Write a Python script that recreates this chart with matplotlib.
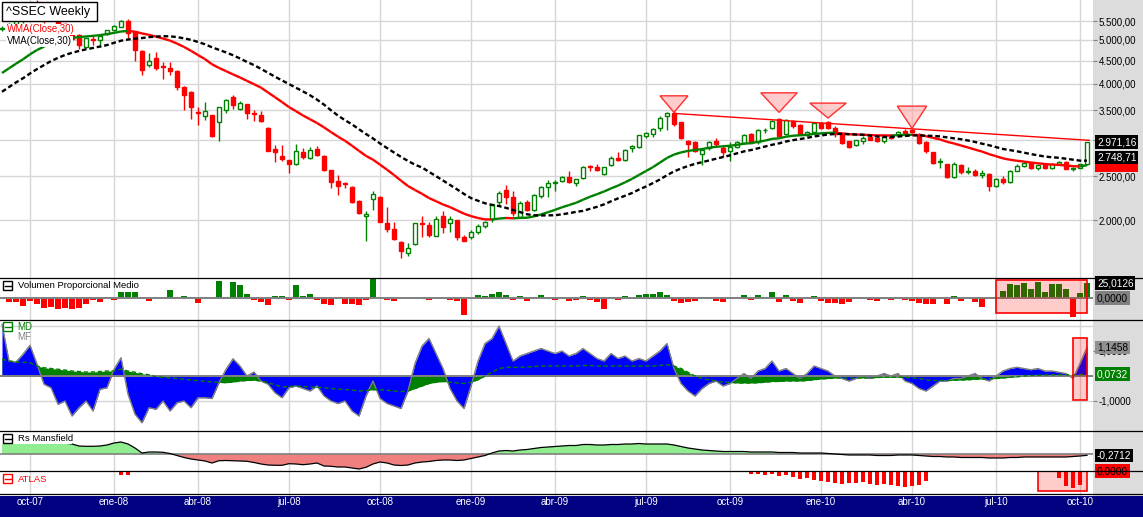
import matplotlib
matplotlib.use("Agg")
import matplotlib.pyplot as plt
import matplotlib.patches as mpatches
from matplotlib.collections import LineCollection
from matplotlib.lines import Line2D
from matplotlib.ticker import NullLocator, NullFormatter
from matplotlib.transforms import blended_transform_factory
import numpy as np

plt.rcParams['font.family'] = ['Liberation Sans', 'DejaVu Sans']

# ---------------- datos semanales ^SSEC ----------------
warmup_close = [2612, 2730, 2998, 2880, 2972, 2895, 3094, 3183, 3323, 3445,
                3584, 3841, 4021, 4030, 4181, 3670, 3913, 4252, 4091, 3820,
                3781, 3914, 4058, 4345, 4560, 4749, 4656, 5107, 5219]

opens = [5290, 5300, 5420, 5530, 5600, 5900, 5800, 5600, 5750, 5420,
         5300, 5120, 4830, 5020, 5010, 5140, 5254, 5345, 5500, 5200,
         4730, 4410, 4570, 4380, 4340, 4265, 3940, 3840, 3470, 3400,
         3410, 3285, 3500, 3745, 3517, 3600, 3440, 3411, 3200, 2870,
         2773, 2713, 2655, 2825, 2746, 2870, 2773, 2579, 2440, 2410,
         2370, 2200, 2040, 2230, 2254, 1966, 1910, 1790, 1694, 1768,
         1970, 1950, 1847, 2041, 1966, 2000, 1830, 1830, 1880, 1943,
         2007, 2188, 2330, 2243, 2034, 2188, 2104, 2262, 2365, 2410,
         2442, 2485, 2420, 2473, 2630, 2620, 2527, 2645, 2735, 2713,
         2880, 2904, 3070, 3095, 3188, 3395, 3440, 3290, 2988, 2980,
         2800, 2880, 2988, 2890, 2840, 2904, 2960, 3105, 2970, 3155,
         3190, 3350, 3105, 3310, 3242, 3090, 3130, 3280, 3300, 3200,
         3095, 2988, 2928, 2990, 3055, 3040, 2988, 3090, 3090, 3150,
         3165, 3105, 2980, 2820, 2680, 2655, 2495, 2650, 2550, 2570,
         2515, 2530, 2380, 2470, 2424, 2572, 2637, 2672, 2608, 2642,
         2611, 2656, 2688, 2598, 2610, 2660]
highs = [5360, 5450, 5560, 5620, 5920, 6124, 5850, 5950, 5780, 5460,
         5330, 5150, 5060, 5100, 5120, 5270, 5380, 5520, 5550, 5220,
         4760, 4670, 4710, 4475, 4475, 4280, 3960, 3850, 3550, 3650,
         3420, 3560, 3700, 3776, 3665, 3610, 3500, 3490, 3210, 2928,
         2928, 2720, 2943, 2890, 2904, 2914, 2780, 2585, 2514, 2430,
         2380, 2215, 2090, 2315, 2260, 2140, 1983, 1795, 1777, 1970,
         2041, 1983, 2040, 2093, 2044, 2005, 1850, 1900, 1960, 1995,
         2175, 2320, 2390, 2320, 2200, 2215, 2280, 2380, 2451, 2451,
         2500, 2570, 2470, 2630, 2640, 2660, 2625, 2770, 2820, 2870,
         2930, 3090, 3130, 3200, 3390, 3470, 3478, 3300, 3004, 2990,
         2890, 2990, 3040, 2928, 2980, 2990, 3100, 3120, 3180, 3190,
         3330, 3360, 3340, 3320, 3260, 3150, 3290, 3300, 3310, 3230,
         3110, 2995, 3010, 3060, 3070, 3050, 3070, 3100, 3140, 3170,
         3180, 3110, 2990, 2830, 2740, 2660, 2680, 2660, 2620, 2590,
         2580, 2540, 2480, 2500, 2580, 2660, 2700, 2690, 2660, 2660,
         2670, 2700, 2700, 2620, 2660, 2980]
lows = [5230, 5250, 5400, 5450, 5580, 5750, 5460, 5560, 5400, 5250,
        4980, 4770, 4790, 4870, 4830, 5120, 5220, 5330, 5040, 4500,
        4180, 4360, 4300, 4095, 4180, 3870, 3500, 3340, 3240, 3325,
        3050, 2990, 3440, 3510, 3500, 3340, 3313, 3300, 2840, 2680,
        2703, 2545, 2650, 2723, 2723, 2770, 2570, 2350, 2271, 2350,
        2180, 2060, 1800, 2104, 1980, 1883, 1807, 1650, 1665, 1760,
        1837, 1837, 1840, 1874, 1880, 1810, 1795, 1820, 1860, 1920,
        1980, 2150, 2172, 2040, 2020, 2090, 2090, 2240, 2250, 2320,
        2430, 2410, 2380, 2460, 2560, 2570, 2520, 2630, 2700, 2700,
        2820, 2880, 3040, 3050, 3150, 3160, 3230, 3020, 2750, 2820,
        2640, 2860, 2920, 2760, 2700, 2890, 2950, 2960, 2950, 3110,
        3180, 3060, 3090, 3200, 3080, 3070, 3110, 3170, 3180, 3050,
        2950, 2890, 2920, 2940, 3000, 2980, 2960, 3020, 3070, 3090,
        3110, 2950, 2810, 2660, 2610, 2480, 2480, 2530, 2530, 2500,
        2480, 2320, 2370, 2400, 2420, 2560, 2620, 2590, 2580, 2590,
        2590, 2640, 2590, 2570, 2600, 2650]
closes = [5300, 5420, 5530, 5580, 5900, 5820, 5590, 5780, 5420, 5330,
          5030, 4870, 5040, 5000, 5100, 5254, 5360, 5500, 5170, 4750,
          4290, 4490, 4330, 4350, 4270, 3940, 3780, 3560, 3450, 3480,
          3070, 3550, 3680, 3590, 3620, 3450, 3425, 3313, 2845, 2820,
          2727, 2655, 2840, 2760, 2855, 2783, 2580, 2430, 2380, 2400,
          2190, 2075, 2062, 2280, 1983, 1910, 1816, 1711, 1732, 1966,
          1960, 1853, 2007, 1933, 2010, 1837, 1800, 1883, 1941, 1983,
          2166, 2300, 2247, 2070, 2177, 2104, 2271, 2370, 2410, 2430,
          2485, 2430, 2460, 2620, 2615, 2579, 2620, 2737, 2720, 2860,
          2914, 3081, 3117, 3176, 3365, 3440, 3255, 3030, 2943, 2840,
          2860, 2980, 2940, 2820, 2904, 2970, 3090, 2965, 3160, 3165,
          3317, 3070, 3325, 3230, 3095, 3130, 3280, 3190, 3190, 3105,
          2965, 2904, 3004, 3040, 3004, 2990, 3055, 3040, 3130, 3105,
          3125, 2960, 2845, 2670, 2695, 2495, 2656, 2553, 2569, 2515,
          2535, 2382, 2470, 2424, 2572, 2637, 2672, 2608, 2642, 2611,
          2656, 2688, 2598, 2610, 2656, 2971.16]

month_bars = [4, 16, 28, 41, 54, 67, 79, 92, 104, 117, 130, 142, 154]
month_labels = ['oct-07', 'ene-08', 'abr-08', 'jul-08', 'oct-08', 'ene-09', 'abr-09',
                'jul-09', 'oct-09', 'ene-10', 'abr-10', 'jul-10', 'oct-10']
price_ticks = [2000, 2500, 3000, 3500, 4000, 4500, 5000, 5500]

# linea de resistencia y triangulos de senal
trend_x = [96, 155.3]
trend_y = [3440, 3000]
tri_bar = [96, 111, 118, 130]
tri_tip = [3458, 3458, 3360, 3188]
tri_top = [3762, 3820, 3625, 3570]
tri_half = [2.0, 2.6, 2.6, 2.1]

volumen = [0, -5.5, -5.5, -12, -4, -10, -15.5, -14, -17, -16.5,
           -17, -16, -10, -2, -5.5, 2, -2, 10, 10, 10,
           0, -4, 0, 0, 14, 0, 4, 0, -7, 0,
           0, 29, 0, 28, 22, 7, -2, -5.5, -10.5, 4,
           4, -2, 22, 4, 7, -2, -9, -10.5, 2, -9,
           -9, -10.5, -2, 33, 0, -2, -4, 0, 0, 3,
           0, -3, 0, 0, -3, -5, -28, 0, 6, 4,
           8, 10, 6, -3, 4, -4, 3, 5, 3, -3,
           3, -5, -3, 4, -2, -6, -18, 3, -3, 4,
           0, 6, 8, 8, 10, 6, -4, -8, -6, -4,
           3, 2, -4, -6, 3, 2, 5, -3, 5, 2,
           10, -6, 5, -4, -8, 2, 4, -5, -7, -8,
           -10, -6, 3, 2, -3, -4, 3, -3, 3, -3,
           -4, -8, -9, -10, 2, -10, 4, -4, 2, -6,
           -15, -1.5, 2.8, 12.8, 24, 22, 25, 15.5, 26.7, 10,
           24, 24, 15.5, -30.5, 8.3, 25.0126]

md = [2.07, 0.6, 0.56, 0.87, 1.23, 0.47, -0.33, -0.47, -1.13, -1.0,
      -1.6, -1.27, -1.0, -1.4, -0.53, -0.47, 0.27, 0.73, -0.73, -1.53,
      -1.87, -1.27, -1.33, -1.0, -1.4, -1.07, -1.0, -1.27, -0.87, -0.87,
      -0.9, -0.27, 0.27, 0.69, 0.4, 0.0, 0.16, -0.2, -0.33, -0.67,
      -0.87, -0.47, -0.4, -0.5, -0.6, -0.4, -0.8, -1.0, -1.1, -1.0,
      -1.4, -1.6, -0.8, -0.2, -0.9, -1.1, -1.2, -1.3, -0.6, 0.5,
      1.2, 1.5, 0.9, 0.3, -0.5, -1.0, -1.3, -0.4, 0.6, 1.3,
      1.5, 2.0, 1.3, 0.6, 0.8, 0.9, 1.0, 1.1, 1.0, 0.9,
      1.0, 0.8, 0.9, 1.1, 0.9, 0.7, 0.6, 0.9, 0.7, 0.8,
      0.6, 0.7, 0.6, 0.8, 1.0, 1.3, 0.3, -0.3, -0.6, -0.8,
      -0.5, -0.3, -0.2, -0.4, -0.3, -0.1, 0.1, -0.1, 0.2, 0.3,
      0.6, 0.2, 0.3, 0.1, -0.1, 0.1, 0.4, 0.3, 0.2, 0.0,
      -0.1, -0.2, -0.1, 0.0, -0.1, 0.0, 0.1, 0.0, 0.1, -0.2,
      -0.3, -0.5, -0.6, -0.4, -0.2, -0.2, -0.1, -0.1, 0.0, 0.1,
      -0.1, -0.2, 0.0, 0.2, 0.3, 0.35, 0.3, 0.25, 0.3, 0.2,
      0.2, 0.15, 0.1, -0.1, 0.5, 1.1458]

mf = [0.67, 0.6, 0.56, 0.55, 0.53, 0.4, 0.33, 0.3, 0.27, 0.24,
      0.2, 0.18, 0.16, 0.16, 0.18, 0.2, 0.2, 0.27, 0.2, 0.15,
      0.09, 0.05, -0.03, -0.05, -0.08, -0.1, -0.13, -0.16, -0.19, -0.21,
      -0.24, -0.25, -0.27, -0.24, -0.2, -0.18, -0.17, -0.2, -0.27, -0.35,
      -0.44, -0.42, -0.4, -0.42, -0.44, -0.45, -0.47, -0.5, -0.52, -0.54,
      -0.56, -0.6, -0.58, -0.55, -0.55, -0.57, -0.6, -0.62, -0.6, -0.5,
      -0.4, -0.3, -0.25, -0.22, -0.25, -0.28, -0.3, -0.25, -0.15, 0.0,
      0.15, 0.3, 0.35, 0.35, 0.35, 0.36, 0.38, 0.4, 0.4, 0.4,
      0.4, 0.4, 0.4, 0.42, 0.42, 0.4, 0.4, 0.4, 0.4, 0.4,
      0.4, 0.4, 0.4, 0.4, 0.42, 0.45, 0.4, 0.3, 0.15, 0.0,
      -0.1, -0.15, -0.2, -0.25, -0.25, -0.28, -0.28, -0.28, -0.27, -0.25,
      -0.22, -0.22, -0.2, -0.2, -0.2, -0.18, -0.15, -0.12, -0.1, -0.08,
      -0.08, -0.08, -0.08, -0.08, -0.08, -0.06, -0.05, -0.05, -0.05, -0.05,
      -0.08, -0.1, -0.15, -0.18, -0.18, -0.18, -0.17, -0.16, -0.15, -0.13,
      -0.12, -0.12, -0.1, -0.08, -0.05, -0.03, 0.0, 0.02, 0.03, 0.04,
      0.05, 0.05, 0.05, 0.04, 0.05, 0.0732]

mansfield = [2.6, 2.6, 2.6, 2.6, 2.6, 2.6, 2.4, 2.4, 2.2, 2.2,
             2.0, 1.6, 1.54, 1.54, 1.6, 1.8, 2.2, 2.4, 2.0, 1.2,
             0.2, 0.4, 0.4, 0.34, 0.1, -0.3, -0.7, -1.0, -1.2, -1.4,
             -1.8, -1.34, -1.3, -1.34, -1.4, -1.46, -1.7, -2.0, -2.2, -2.26,
             -2.26, -1.94, -2.0, -2.14, -2.0, -1.8, -2.4, -2.46, -2.6, -2.6,
             -2.8, -3.0, -2.66, -2.0, -1.6, -1.8, -2.2, -2.3, -2.2, -1.8,
             -1.6, -1.5, -1.3, -1.2, -1.2, -1.3, -1.2, -0.9, -0.6, -0.3,
             0.2, 0.6, 0.7, 0.6, 0.8, 0.9, 1.1, 1.3, 1.4, 1.5,
             1.6, 1.7, 1.7, 1.9, 1.9, 1.8, 1.8, 1.9, 1.9, 2.0,
             2.0, 2.1, 2.0, 2.0, 2.0, 2.0, 1.8, 1.5, 1.2, 1.0,
             0.8, 0.7, 0.6, 0.5, 0.5, 0.5, 0.5, 0.4, 0.4, 0.4,
             0.4, 0.3, 0.3, 0.3, 0.2, 0.2, 0.2, 0.2, 0.1, 0.0,
             -0.1, -0.2, -0.2, -0.2, -0.2, -0.3, -0.3, -0.3, -0.2, -0.2,
             -0.2, -0.3, -0.4, -0.5, -0.5, -0.6, -0.6, -0.7, -0.7, -0.7,
             -0.7, -0.8, -0.8, -0.8, -0.7, -0.7, -0.6, -0.6, -0.6, -0.6,
             -0.6, -0.6, -0.6, -0.5, -0.4, -0.2712]

atlas_bars = [17, 18, 107, 108, 109, 110, 111, 112, 113, 114, 115, 116, 117, 118,
              119, 120, 121, 122, 123, 124, 125, 126, 127, 128, 129, 130, 131, 132,
              151, 152, 153, 154]
atlas_vals = [-4, -4, -3, -3, -4, -3, -5, -4, -6, -8, -7, -9, -10, -11,
              -12, -13, -12, -12, -11, -13, -14, -13, -14, -15, -16, -15, -14, -10,
              -6.7, -15, -16.7, -14]

# ---------------- figura ----------------
W, H = 1143, 517
RIGHT = 1093
GREEN, RED, GRID = '#008000', '#ff0000', '#d6d6d6'

o, h, l, c = (np.array(a, dtype=float) for a in (opens, highs, lows, closes))
n = len(c)
x = np.arange(n)
XMIN, XMAX = -2 / 7, (RIGHT - 2) / 7

fig = plt.figure(figsize=(W / 100, H / 100), dpi=100)
fig.patch.set_facecolor('#dcdcdc')


def fx(px):
    return px / W


def fy(py):
    return 1 - py / H


def es(v, d):
    s = f"{v:,.{d}f}"
    return s.replace(',', 'X').replace('.', ',').replace('X', '.')


def make_panel(top, bottom):
    ax = fig.add_axes([0, fy(bottom), fx(RIGHT), (bottom - top) / H])
    ax.set_facecolor('white')
    for s in ax.spines.values():
        s.set_visible(False)
    ax.set_xlim(XMIN, XMAX)
    ax.set_xticks(month_bars)
    ax.tick_params(axis='x', length=0, labelbottom=False)
    ax.grid(axis='x', color=GRID, lw=1)
    ax.yaxis.tick_right()
    ax.tick_params(axis='y', direction='out', length=3, color='#808080',
                   labelsize=7, pad=1)
    ax.set_axisbelow(True)
    return ax


def icon(py, color):
    fig.add_artist(mpatches.Rectangle((fx(2.7), fy(py + 9)), 9.6 / W, 9 / H,
                                      transform=fig.transFigure, fc='white',
                                      ec=color, lw=1, zorder=6))
    fig.add_artist(Line2D([fx(4.5), fx(10.5)], [fy(py + 4.5)] * 2,
                          transform=fig.transFigure, color=color, lw=1, zorder=7))


def value_box(ax, yval, txt, fc, tc):
    tr = blended_transform_factory(ax.transAxes, ax.transData)
    ax.text(1097 / RIGHT, yval, txt, transform=tr, ha='left', va='center',
            fontsize=7.3, color=tc, clip_on=False, zorder=10,
            bbox=dict(boxstyle='square,pad=0.18', fc=fc, ec='none'))


# ---- panel principal ----
ax = make_panel(0, 277.5)
ax.set_yscale('log')
ax.set_ylim(1493, 6125)
ax.set_yticks(price_ticks)
ax.set_yticklabels([es(v, 2) for v in price_ticks])
ax.yaxis.set_minor_locator(NullLocator())
ax.yaxis.set_minor_formatter(NullFormatter())
ax.grid(axis='y', color=GRID, lw=1)

up = c >= o
cols = np.where(up, GREEN, RED)
ax.vlines(x, l, h, colors=cols, lw=1, zorder=2)
ax.bar(x, np.abs(c - o), bottom=np.minimum(o, c), width=0.68,
       color=np.where(up, 'white', RED), edgecolor=cols, lw=1, zorder=3)

allc = np.array(warmup_close + closes, dtype=float)
k = 30
wts = np.arange(1, k + 1)
start = len(warmup_close)
wma = np.array([np.dot(allc[j - k + 1:j + 1], wts) / wts.sum() for j in range(start, len(allc))])
sma = np.array([allc[j - k + 1:j + 1].mean() for j in range(start, len(allc))])

pts = np.column_stack([x, wma])
segs = np.stack([pts[:-1], pts[1:]], axis=1)
seg_cols = [GREEN if wma[i + 1] >= wma[i] else RED for i in range(n - 1)]
ax.add_collection(LineCollection(segs, colors=seg_cols, lw=1.7, zorder=5))
ax.plot(x, sma, color='black', lw=1.7, dashes=(2, 1.2), zorder=5)

ax.plot(trend_x, trend_y, color=RED, lw=1, zorder=4)
for b, tip, top, hw in zip(tri_bar, tri_tip, tri_top, tri_half):
    ax.add_patch(mpatches.Polygon([(b - hw, top), (b + hw, top), (b, tip)], closed=True,
                                  fc=(1, 0.6, 0.6, 0.5), ec='#ff3030', lw=1, zorder=6))

value_box(ax, 2645.79, '2.645,79', RED, RED)
value_box(ax, 2748.71, '2.748,71', 'black', 'white')
value_box(ax, c[-1], es(c[-1], 2), 'black', 'white')

# leyenda
fig.add_artist(mpatches.Rectangle((fx(1.7), fy(21)), 95 / W, 19.3 / H, transform=fig.transFigure,
                                  fc='white', ec='black', lw=1, zorder=6))
fig.text(fx(6.5), fy(11.5), '^SSEC Weekly', fontsize=9, va='center', zorder=7)
fig.text(fx(7), fy(29.5), 'WMA(Close,30)', fontsize=6.9, color=RED, va='center', zorder=7,
         bbox=dict(fc='white', ec='none', pad=0.6))
fig.text(fx(7), fy(41.5), 'VMA(Close,30)', fontsize=6.9, color='black', va='center', zorder=7,
         bbox=dict(fc='white', ec='none', pad=0.6))

# ---- Volumen Proporcional Medio ----
av = make_panel(277.5, 319.5)
av.set_ylim(-35.3, 34.7)
av.set_yticks([])
vol = np.array(volumen)
av.bar(x, vol, width=0.72, color=np.where(vol >= 0, GREEN, RED), zorder=2)
av.axhline(0, color='#808080', lw=1.4, zorder=3)
av.add_patch(mpatches.Rectangle((142.0, -25), 13.04, 55.5, fc=(1, 0, 0, 0.2), ec=RED,
                                lw=1.2, zorder=4))
value_box(av, vol[-1], es(vol[-1], 4), 'black', 'white')
value_box(av, 0, '0,0000', '#808080', 'black')
icon(281, 'black')
fig.text(fx(17.5), fy(286), 'Volumen Proporcional Medio', fontsize=6.8, va='center', zorder=7)

# ---- MD / MF ----
am = make_panel(319.5, 430.5)
am.set_ylim(-2.18, 2.26)
am.set_yticks([-1, 1])
am.set_yticklabels(['-1,0000', '1,0000'])
for g in (-1, 2):
    am.axhline(g, color=GRID, lw=1, zorder=0.5)
mdv, mfv = np.array(md), np.array(mf)
am.fill_between(x, 0, mfv, color=GREEN, lw=0, zorder=1)
am.fill_between(x, 0, mdv, color='#0000ff', lw=0, zorder=2)
am.plot(x, mdv, color='#808080', lw=1, zorder=3)
am.axhline(0, color='#808080', lw=1.4, zorder=3.5)
am.plot(x, mfv, color=GREEN, lw=1, dashes=(3, 2), zorder=4)
am.add_patch(mpatches.Rectangle((153.0, -0.96), 2.04, 2.47, fc=(1, 0, 0, 0.2), ec=RED,
                                lw=1.2, zorder=5))
value_box(am, mdv[-1], es(mdv[-1], 4), '#909090', 'black')
value_box(am, mfv[-1], es(mfv[-1], 4), GREEN, 'white')
icon(322, GREEN)
fig.text(fx(17.5), fy(326.5), 'MD', fontsize=7, color=GREEN, va='center', zorder=7)
fig.text(fx(17.5), fy(337.5), 'MF', fontsize=7, color='#808080', va='center', zorder=7)

# ---- Rs Mansfield ----
ams = make_panel(430.5, 471)
ams.set_ylim(-3.4, 4.7)
ams.set_yticks([])
rs = np.array(mansfield)
ams.fill_between(x, 0, rs, where=rs >= 0, interpolate=True, color='#90ee90', lw=0, zorder=1)
ams.fill_between(x, 0, rs, where=rs <= 0, interpolate=True, color='#f08080', lw=0, zorder=1)
ams.axhline(0, color='#808080', lw=1.2, zorder=2)
ams.plot(x, rs, color='black', lw=0.9, zorder=3)
value_box(ams, rs[-1], es(rs[-1], 4), 'black', 'white')
fig.add_artist(mpatches.Rectangle((0, fy(444)), 72 / W, 12.5 / H, transform=fig.transFigure,
                                  fc='white', ec='none', zorder=5))
icon(434, 'black')
fig.text(fx(17.5), fy(438.5), 'Rs Mansfield', fontsize=6.8, va='center', zorder=7)

# ---- ATLAS ----
aa = make_panel(471, 496)
aa.set_ylim(-24.7, 0.3)
aa.set_yticks([])
aa.bar(atlas_bars, atlas_vals, width=0.45, color=RED, zorder=2)
aa.add_patch(mpatches.Rectangle((148.0, -19.3), 7.04, 19.5, fc=(1, 0, 0, 0.2), ec=RED,
                                lw=1.2, zorder=4))
value_box(aa, 0, '0,0000', RED, 'black')
icon(474, RED)
fig.text(fx(17.5), fy(479), 'ATLAS', fontsize=6.8, color=RED, va='center', zorder=7)

# separadores y eje de fechas
for yy in (277.5, 319.5, 430.5, 471, 493.5):
    fig.add_artist(Line2D([0, 1], [fy(yy)] * 2, transform=fig.transFigure,
                          color='black', lw=0.9, zorder=8))
fig.add_artist(mpatches.Rectangle((0, 0), 1, 21 / H, transform=fig.transFigure,
                                  fc='#000080', ec='none', zorder=8))
for b, lab in zip(month_bars, month_labels):
    fig.text(fx(2 + 7 * b), fy(502), lab, color='white', fontsize=7,
             ha='center', va='center', zorder=9)

fig.savefig('out.png', dpi=100, facecolor=fig.get_facecolor())
